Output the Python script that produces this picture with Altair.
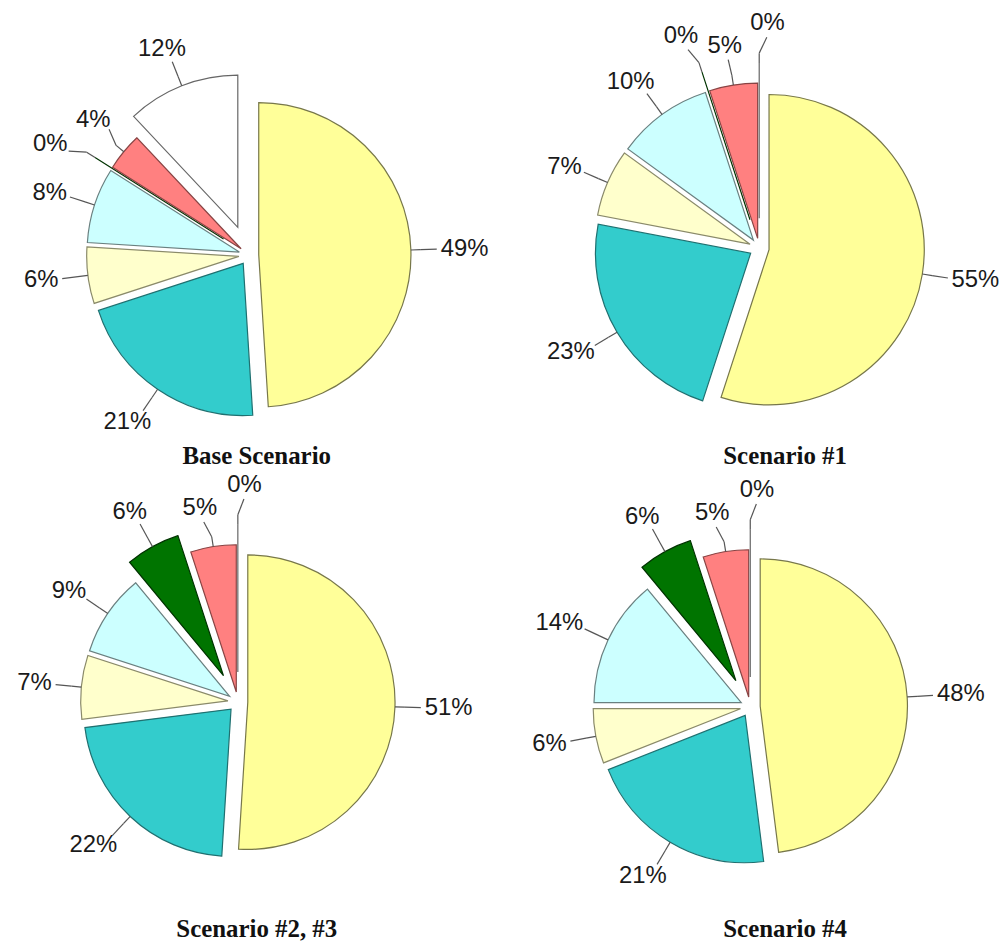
import math
import altair as alt
import pandas as pd

# ---------------- data ----------------
categories = ["Yellow", "Teal", "Light yellow", "Light turquoise", "Green", "Coral", "White"]
scenario_titles = ["Base Scenario", "Scenario #1", "Scenario #2, #3", "Scenario #4"]

base_values = [49, 21, 6, 8, 0, 4, 12]
s1_values = [55, 23, 7, 10, 0, 5, 0]
s23_values = [51, 22, 7, 9, 6, 5, 0]
s4_values = [48, 21, 6, 14, 6, 5, 0]
scenario_values = [base_values, s1_values, s23_values, s4_values]

# ---------------- styles ----------------
fill_colors = ["#FFFF99", "#33CCCC", "#FFFFCC", "#CCFFFF", "#007400", "#FF8080", "#FFFFFF"]
stroke_colors = ["#77774a", "#1f7070", "#8a8a6a", "#6a8080", "#003300", "#884444", "#666666"]
EXPLODE_DEFAULT = 10
EXPLODE = {"White": 30, "Green": 30}

LABEL_SIZE = 24
LABEL_FONT = "Liberation Sans"

# panel width/height, pie centre (px from panel left / top), radius, title shift/offset
LAYOUT = [
    dict(w=500, h=430, cx=242, cy=246, r=153, tdx=0, toff=6),
    dict(w=496, h=430, cx=255, cy=239, r=156, tdx=33, toff=6),
    dict(w=500, h=432, cx=231, cy=232, r=148, tdx=0, toff=16),
    dict(w=496, h=432, cx=246, cy=237, r=148, tdx=33, toff=16),
]


def text_width(s, size=LABEL_SIZE):
    return sum(0.889 if c == "%" else 0.556 for c in s) * size


def build_panel(values, title, lay):
    total = float(sum(values))
    r = lay["r"]
    h_txt = LABEL_SIZE * 0.75
    arcs, labels = [], []
    cum = 0.0
    for cat, v in zip(categories, values):
        a0 = cum / total * 2 * math.pi
        cum += v
        a1 = cum / total * 2 * math.pi
        m = (a0 + a1) / 2
        e = EXPLODE.get(cat, EXPLODE_DEFAULT)
        arcs.append(dict(cat=cat, a0=a0, a1=a1, ox=e * math.sin(m), oy=e * math.cos(m)))
        lab = f"{v}%"
        labels.append(dict(cat=cat, label=lab, m=m, la=m, e=e, w=text_width(lab)))

    def place(L):
        RA = r + L["e"] + 26
        ax, ay = RA * math.sin(L["la"]), RA * math.cos(L["la"])
        tx = ax + math.sin(L["la"]) * (L["w"] / 2 + 4)
        ty = ay + math.cos(L["la"]) * (h_txt / 2 + 5)
        return ax, ay, tx, ty

    order = sorted(range(len(labels)), key=lambda i: labels[i]["m"])
    for _ in range(600):
        moved = False
        for k in range(len(order) - 1):
            i, j = order[k], order[k + 1]
            _, _, xi, yi = place(labels[i])
            _, _, xj, yj = place(labels[j])
            if abs(xi - xj) < (labels[i]["w"] + labels[j]["w"]) / 2 + 8 and abs(yi - yj) < h_txt + 10:
                labels[i]["la"] -= 0.006
                labels[j]["la"] += 0.006
                moved = True
        if not moved:
            break

    rules, texts = [], []
    for L in labels:
        ax, ay, tx, ty = place(L)
        re = r + L["e"]
        p0 = (re * math.sin(L["m"]), re * math.cos(L["m"]))
        p1 = ((re + 10) * math.sin(L["m"]), (re + 10) * math.cos(L["m"]))
        rules.append(dict(x0=p0[0], y0=p0[1], x1=p1[0], y1=p1[1]))
        rules.append(dict(x0=p1[0], y0=p1[1], x1=ax, y1=ay))
        texts.append(dict(label=L["label"], tx=tx, ty=ty))

    xs = alt.Scale(domain=[-lay["cx"], lay["w"] - lay["cx"]], nice=False, zero=False)
    ys = alt.Scale(domain=[-(lay["h"] - lay["cy"]), lay["cy"]], nice=False, zero=False)

    arc_layer = alt.Chart(pd.DataFrame(arcs)).mark_arc(radius=r, strokeWidth=1.2).encode(
        x=alt.X("ox:Q", scale=xs, axis=None),
        y=alt.Y("oy:Q", scale=ys, axis=None),
        theta=alt.Theta("a0:Q", scale=None),
        theta2=alt.Theta2("a1:Q"),
        color=alt.Color("cat:N", scale=alt.Scale(domain=categories, range=fill_colors), legend=None),
        stroke=alt.Stroke("cat:N", scale=alt.Scale(domain=categories, range=stroke_colors), legend=None),
    )
    rule_layer = alt.Chart(pd.DataFrame(rules)).mark_rule(color="#555555", strokeWidth=1.2).encode(
        x=alt.X("x0:Q", scale=xs, axis=None),
        y=alt.Y("y0:Q", scale=ys, axis=None),
        x2="x1:Q",
        y2="y1:Q",
    )
    text_layer = alt.Chart(pd.DataFrame(texts)).mark_text(
        font=LABEL_FONT, fontSize=LABEL_SIZE, color="#1a1a1a", align="center", baseline="middle"
    ).encode(
        x=alt.X("tx:Q", scale=xs, axis=None),
        y=alt.Y("ty:Q", scale=ys, axis=None),
        text="label:N",
    )
    return alt.layer(arc_layer, rule_layer, text_layer).properties(
        width=lay["w"],
        height=lay["h"],
        title=alt.TitleParams(
            text=title, orient="bottom", font="Liberation Serif", fontSize=25,
            fontWeight="bold", color="#111111", offset=lay["toff"], anchor="middle", dx=lay["tdx"],
        ),
    )


panels = [build_panel(v, t, l) for v, t, l in zip(scenario_values, scenario_titles, LAYOUT)]

chart = alt.vconcat(
    alt.hconcat(panels[0], panels[1], spacing=0),
    alt.hconcat(panels[2], panels[3], spacing=0),
    spacing=2,
).properties(padding=0, background="white").configure_view(strokeWidth=0)

chart.save("out.html", embed_options={"renderer": "svg", "actions": False})
